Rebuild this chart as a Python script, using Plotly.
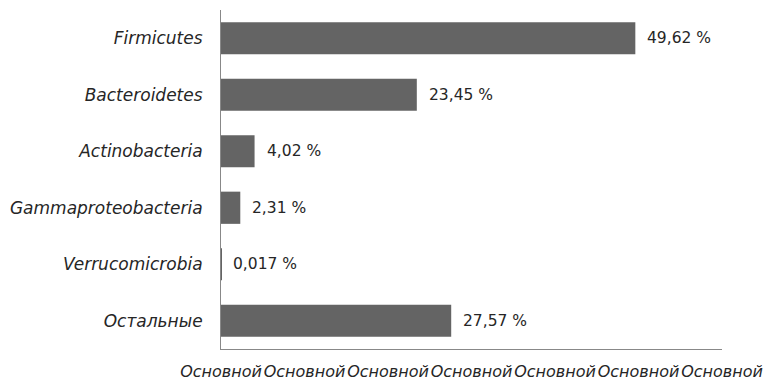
import plotly.graph_objects as go

# Phylum shares (%) — listed top to bottom
categories = ["Firmicutes", "Bacteroidetes", "Actinobacteria",
              "Gammaproteobacteria", "Verrucomicrobia", "Остальные"]
shares = [49.62, 23.45, 4.02, 2.31, 0.017, 27.57]

x_tick_values = [0, 10, 20, 30, 40, 50, 60]
x_tick_labels = ["Основной"] * 7

FONT = "DejaVu Sans"
labels = [str(v).replace(".", ",") + " %" for v in shares]

fig = go.Figure(
    go.Bar(
        x=shares,
        y=categories,
        orientation="h",
        width=0.57,
        marker=dict(color="#646464", line=dict(width=0)),
        hoverinfo="skip",
    )
)

for cat, val, lab in zip(categories, shares, labels):
    fig.add_annotation(
        x=val, y=cat, text=lab, showarrow=False,
        xanchor="left", yanchor="middle", xshift=10,
        font=dict(family=FONT, size=15.5, color="#262626"),
    )

fig.update_layout(
    width=767, height=381,
    margin=dict(l=221, r=45, t=10, b=32),
    paper_bgcolor="white", plot_bgcolor="white",
    showlegend=False,
    bargap=0.43,
    xaxis=dict(
        range=[0, 60], automargin=False,
        tickmode="array", tickvals=x_tick_values, ticktext=x_tick_labels,
        tickangle=0,
        showgrid=False, zeroline=False,
        showline=True, linecolor="#888888", linewidth=1,
        ticks="outside", ticklen=8, tickcolor="rgba(0,0,0,0)",
        tickfont=dict(family=FONT, size=16, color="#262626", style="italic"),
        fixedrange=True,
    ),
    yaxis=dict(
        categoryorder="array", categoryarray=categories[::-1], automargin=False,
        showgrid=False, zeroline=False,
        showline=True, linecolor="#888888", linewidth=1,
        ticks="outside", ticklen=14, tickcolor="rgba(0,0,0,0)",
        tickfont=dict(family=FONT, size=17, color="#262626", style="italic"),
        fixedrange=True,
    ),
)

fig.write_html("out.html")
